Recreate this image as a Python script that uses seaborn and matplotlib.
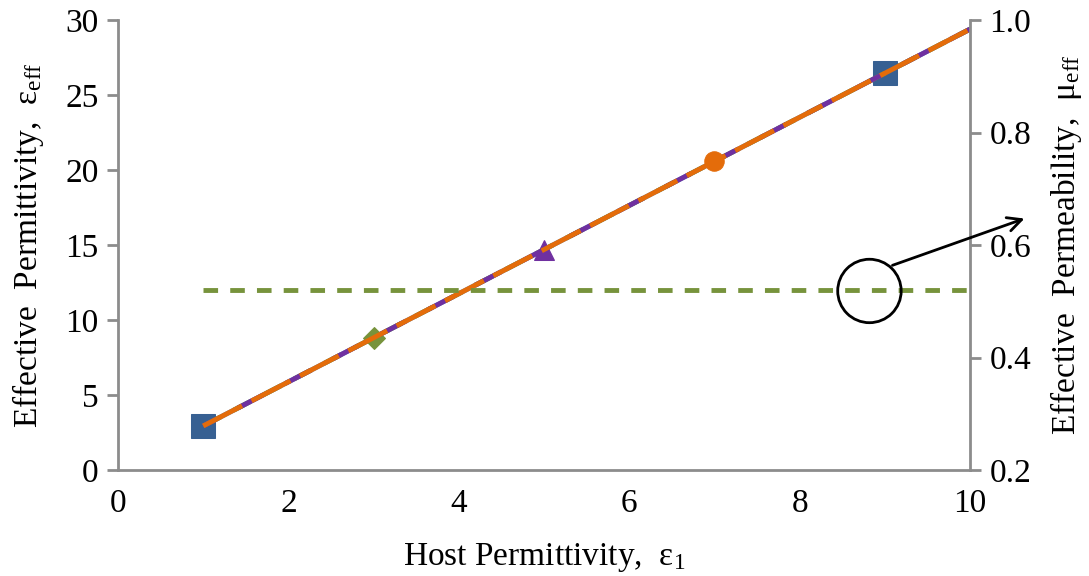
import numpy as np
import pandas as pd
import matplotlib
matplotlib.use("Agg")
import matplotlib.pyplot as plt
import seaborn as sns
from matplotlib.patches import Ellipse

# ---- data ----
host_eps = [1, 2, 3, 4, 5, 6, 7, 8, 9, 10]
eps_blue = [2.94, 5.88, 8.82, 11.76, 14.70, 17.64, 20.58, 23.52, 26.46, 29.40]
eps_green = [2.94, 5.88, 8.82, 11.76, 14.70, 17.64, 20.58, 23.52, 26.46, 29.40]
eps_purple = [2.94, 5.88, 8.82, 11.76, 14.70, 17.64, 20.58, 23.52, 26.46, 29.40]
eps_orange = [2.94, 5.88, 8.82, 11.76, 14.70, 17.64, 20.58, 23.52, 26.46, 29.40]
mu_eff = [0.52, 0.52, 0.52, 0.52, 0.52, 0.52, 0.52, 0.52, 0.52, 0.52]

x_ticks = [0, 2, 4, 6, 8, 10]
y_ticks = [0, 5, 10, 15, 20, 25, 30]
y2_ticks = [0.2, 0.4, 0.6, 0.8, 1.0]

sns.set_theme(style="white")
plt.rcParams['font.family'] = ['Liberation Serif', 'DejaVu Serif']
plt.rcParams['mathtext.fontset'] = 'custom'
plt.rcParams['mathtext.rm'] = 'Liberation Serif'
plt.rcParams['mathtext.it'] = 'Liberation Serif:italic'
plt.rcParams['text.color'] = 'black'
plt.rcParams['axes.labelcolor'] = 'black'

FS = 24
gray = '#8c8c8c'
c_blue = '#376092'
c_green = '#77933C'
c_purple = '#7030A0'
c_orange = '#E46C0A'

fig = plt.figure(figsize=(10.89, 5.76), dpi=100)
ax = fig.add_axes([0.1084, 0.184, 0.7823, 0.781])

df = pd.DataFrame({'x': host_eps, 'blue': eps_blue, 'green': eps_green,
                   'purple': eps_purple, 'orange': eps_orange})

sns.lineplot(data=df, x='x', y='blue', ax=ax, color='#4F81BD', lw=3.5,
             marker='s', markersize=17, markevery=[0, 8],
             markerfacecolor=c_blue, markeredgecolor=c_blue, zorder=3)
sns.lineplot(data=df, x='x', y='green', ax=ax, color=c_green, lw=3.5,
             marker='D', markersize=11, markevery=[2],
             markerfacecolor=c_green, markeredgecolor=c_green, zorder=4)
ax.lines[-1].set_linestyle((0, (4, 3)))
sns.lineplot(data=df, x='x', y='purple', ax=ax, color=c_purple, lw=3.5,
             marker='^', markersize=15, markevery=[4],
             markerfacecolor=c_purple, markeredgecolor=c_purple, zorder=5)
ax.lines[-1].set_linestyle((3, (6, 5)))
sns.lineplot(data=df, x='x', y='orange', ax=ax, color=c_orange, lw=3.5,
             marker='o', markersize=14, markevery=[6],
             markerfacecolor=c_orange, markeredgecolor=c_orange, zorder=6)
ax.lines[-1].set_linestyle((0, (9, 2.2)))

ax.set_xlim(0, 10)
ax.set_ylim(0, 30)
ax.set_xticks(x_ticks)
ax.set_yticks(y_ticks)
ax.set_xlabel('Host Permittivity,  $\\mathrm{\\varepsilon_1}$', fontsize=FS, labelpad=16)
ax.set_ylabel('Effective  Permittivity,  $\\mathrm{\\varepsilon_{eff}}$', fontsize=FS, labelpad=14)

ax2 = ax.twinx()
df2 = pd.DataFrame({'x': host_eps, 'mu': mu_eff})
sns.lineplot(data=df2, x='x', y='mu', ax=ax2, color=c_green, lw=3.5)
ax2.lines[-1].set_linestyle((0, (3, 2.5)))
ax2.set_ylim(0.2, 1.0)
ax2.set_yticks(y2_ticks)
ax2.set_yticklabels([f'{v:.1f}' for v in y2_ticks])
ax2.set_ylabel('Effective  Permeability,  $\\mathrm{\\mu_{eff}}$', fontsize=FS, labelpad=12)

for a in (ax, ax2):
    for s in a.spines.values():
        s.set_visible(False)
    a.tick_params(labelsize=FS, labelcolor='black', length=8, width=2, color=gray, direction='out')
    a.grid(False)
for side in ('left', 'bottom'):
    ax.spines[side].set_visible(True)
    ax.spines[side].set_color(gray)
    ax.spines[side].set_linewidth(2)
ax2.spines['right'].set_visible(True)
ax2.spines['right'].set_color(gray)
ax2.spines['right'].set_linewidth(2)
ax.tick_params(axis='x', pad=5)
ax.tick_params(axis='y', pad=6)
ax2.tick_params(axis='y', pad=6)

# circle + arrow annotation (axes-fraction coordinates)
circ = Ellipse((0.882, 0.398), width=0.0745, height=0.141, transform=ax.transAxes,
               fill=False, edgecolor='black', lw=2, zorder=10, clip_on=False)
ax2.add_patch(circ)
ax2.annotate('', xy=(1.064, 0.559), xytext=(0.909, 0.455),
             xycoords='axes fraction', textcoords='axes fraction',
             arrowprops=dict(arrowstyle='->', color='black', lw=2,
                             mutation_scale=25, shrinkA=0, shrinkB=0),
             annotation_clip=False, zorder=10)

fig.savefig('out.png', dpi=100)
